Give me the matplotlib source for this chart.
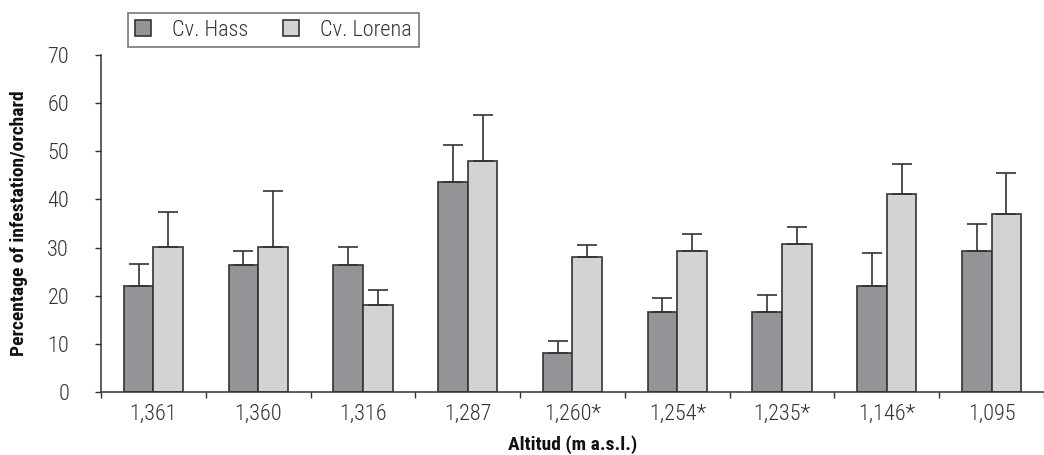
import matplotlib
matplotlib.use('Agg')
import matplotlib.pyplot as plt
from matplotlib.patches import Patch
import numpy as np

# altitudes (m a.s.l.), * = significant difference
altitudes = ['1,361', '1,360', '1,316', '1,287', '1,260*', '1,254*', '1,235*', '1,146*', '1,095']
hass = [22.0, 26.4, 26.4, 43.7, 8.1, 16.6, 16.6, 21.9, 29.2]
hass_err = [4.6, 2.8, 3.8, 7.7, 2.5, 2.9, 3.5, 7.0, 5.8]
lorena = [30.1, 30.1, 18.1, 48.0, 28.0, 29.2, 30.7, 41.1, 36.9]
lorena_err = [7.3, 11.6, 3.0, 9.5, 2.5, 3.6, 3.5, 6.3, 8.6]

c_hass = '#939498'
c_lorena = '#d2d3d5'
c_edge = '#333333'
c_text = '#333333'

plt.rcParams['font.family'] = ['Roboto Condensed', 'DejaVu Sans']

fig = plt.figure(figsize=(10.44, 4.55), dpi=100)
ax = fig.add_axes([101 / 1044, 1 - 391.7 / 455, 1 - 101 / 1044, (391.7 - 55.3) / 455])

x = np.arange(len(altitudes))
w = 0.283
err_kw = dict(ecolor=c_edge, elinewidth=1.2, capsize=7, capthick=1.2)
ax.bar(x - w / 2, hass, w, color=c_hass, edgecolor=c_edge, linewidth=1.2,
       yerr=[np.zeros(len(hass)), hass_err], error_kw=err_kw, zorder=2)
ax.bar(x + w / 2, lorena, w, color=c_lorena, edgecolor=c_edge, linewidth=1.2,
       yerr=[np.zeros(len(lorena)), lorena_err], error_kw=err_kw, zorder=2)

ax.set_xlim(-0.5, -0.5 + (1044 - 101) / 106)
ax.set_ylim(0, 70)
ax.set_yticks(range(0, 71, 10))
ax.set_xticks(x)
ax.set_xticklabels(altitudes, fontweight='light')
ax.set_yticklabels([str(v) for v in range(0, 71, 10)], fontweight='light')
ax.set_xticks(np.arange(-0.5, len(altitudes), 1), minor=True)
ax.tick_params(axis='x', which='major', length=0, pad=9, labelsize=16, labelcolor=c_text)
ax.tick_params(axis='x', which='minor', length=4, width=1, color=c_edge, direction='out')
ax.tick_params(axis='y', length=4, width=1, color=c_edge, labelsize=16, labelcolor=c_text, pad=19)

for s in ['top', 'right']:
    ax.spines[s].set_visible(False)
ax.spines['left'].set_color(c_edge)
ax.spines['bottom'].set_color(c_edge)
ax.spines['left'].set_linewidth(1.1)
ax.spines['bottom'].set_linewidth(1.1)

ax.set_ylabel('Percentage of infestation/orchard', fontsize=14, fontweight='bold',
              color='#111111', labelpad=14)
ax.set_xlabel('Altitud (m a.s.l.)', fontsize=14, fontweight='bold', color='#111111', labelpad=7)

handles = [Patch(facecolor=c_hass, edgecolor=c_edge, linewidth=1.2),
           Patch(facecolor=c_lorena, edgecolor=c_edge, linewidth=1.2)]
leg = fig.legend(handles, ['Cv. Hass', 'Cv. Lorena'], loc='center',
                 bbox_to_anchor=(273.5 / 1044, 1 - 30 / 455), ncol=2,
                 prop={'size': 16, 'weight': 'light'},
                 frameon=True, fancybox=False, edgecolor='#555555', handlelength=0.73,
                 handleheight=0.73, handletextpad=0.95, columnspacing=1.55,
                 borderpad=0.3, labelcolor=c_text)
leg.get_frame().set_linewidth(1.2)

fig.savefig('out.png', dpi=100)
